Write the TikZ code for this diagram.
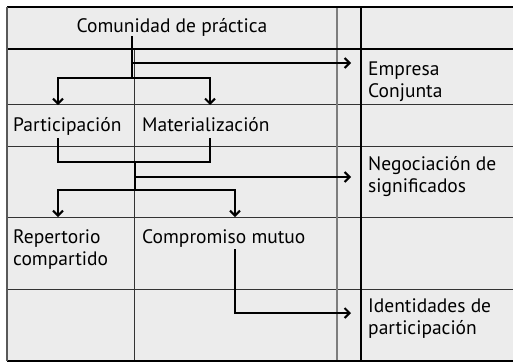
\documentclass[tikz,border=0pt]{standalone}
\usepackage{fontspec}
\setmainfont{PT Sans}
\usetikzlibrary{arrows.meta}
\definecolor{cellgray}{RGB}{236,236,236}
\definecolor{rulegray}{RGB}{125,125,125}
\tikzset{
	conn/.style={line width=2pt, >={Straight Barb[length=5pt,width=10pt]}},
	txt/.style={inner sep=0pt, anchor=base west, align=left, font=\fontsize{19.5}{22.5}\selectfont},
}

\begin{document}
\begin{tikzpicture}[x=1pt,y=-1pt]
	\useasboundingbox (0,0) rectangle (513,362);
	\fill[cellgray] (7,7) rectangle (513,361);
	\foreach \y in {104, 146, 217, 289}{
		\draw[line width=1pt, black!80] (7,\y) -- (513,\y);
	}
	\draw[line width=1pt, black!80] (134,49) -- (134,361);
	\draw[line width=1.3pt, rulegray] (337,7) -- (337,361);
	\draw[line width=1.3pt] (361,7) -- (361,361);
	\draw[line width=2pt] (7,49) -- (513,49);
	\draw[line width=1.3pt] (7,7) -- (513,7);
	\draw[line width=1.5pt] (7,361) -- (513,361);
	\draw[line width=2pt, black!65] (7,7) -- (7,361);

	% two-line nodes sit on their last baseline
	\node[txt, anchor=base] (comunidad) at (172,32) {Comunidad de práctica};
	\node[txt] (partic) at (13,131) {Participación};
	\node[txt] (material) at (142,131) {Materialización};
	\node[txt] (repert) at (13,265.5) {Repertorio\\compartido};
	\node[txt] (comprom) at (142,243) {Compromiso mutuo};
	\node[txt] (empresa) at (368,97.5) {Empresa\\Conjunta};
	\node[txt] (negoc) at (368,192.5) {Negociación de\\significados};
	\node[txt] (ident) at (368,334.5) {Identidades de\\participación};

	\coordinate (ja) at (132,78);
	\coordinate (jb) at (135,162);
	\coordinate (jc) at (135,190);
	\coordinate (pin) at (58,105);
	\coordinate (min) at (210,105);
	\coordinate (pout) at (58,138);
	\coordinate (mout) at (210,138);
	\coordinate (rin) at (58,217);
	\coordinate (cin) at (235,217);
	\coordinate (cout) at (235,249);
	\coordinate (e1) at (351,63);
	\coordinate (e2) at (351,177);
	\coordinate (e3) at (351,313);

	\draw[conn] (comunidad.south -| ja) -- (ja);
	\draw[conn,->] (ja) -| (pin);
	\draw[conn,->] (ja) -| (min);
	\draw[conn,->] (ja |- e1) -- (e1);
	\draw[conn] (pout) -- (pout |- jb) -- (mout |- jb) -- (mout);
	\draw[conn] (jb) -- (jc);
	\draw[conn,->] (jc) -| (rin);
	\draw[conn,->] (jc) -| (cin);
	\draw[conn,->] (jb |- e2) -- (e2);
	\draw[conn,->] (cout) |- (e3);
	%\draw[conn] (cout) -- (235,313);
\end{tikzpicture}
\end{document}
